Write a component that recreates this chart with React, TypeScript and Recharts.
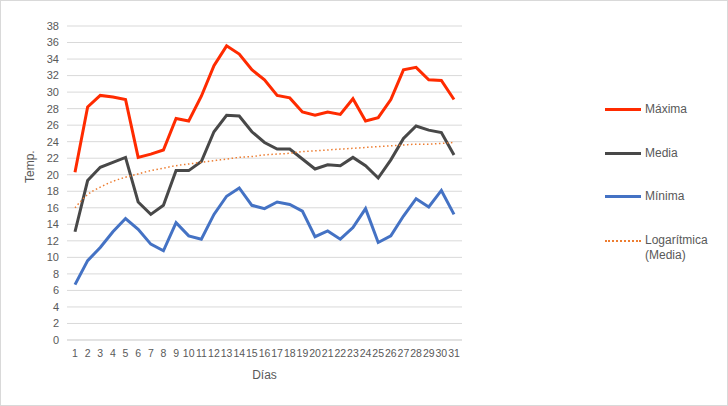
import { LineChart, Line, XAxis, YAxis, CartesianGrid, Legend } from 'recharts';

// Días del mes
const dias = [
  '1', '2', '3', '4', '5', '6', '7', '8', '9', '10', '11', '12', '13', '14', '15', '16',
  '17', '18', '19', '20', '21', '22', '23', '24', '25', '26', '27', '28', '29', '30', '31',
];

const maxima = [
  20.3, 28.2, 29.6, 29.4, 29.1, 22.1, 22.5, 23.0, 26.8, 26.5, 29.5, 33.2, 35.6, 34.6, 32.7, 31.5,
  29.6, 29.3, 27.6, 27.2, 27.6, 27.3, 29.2, 26.5, 26.9, 29.1, 32.7, 33.0, 31.5, 31.4, 29.1,
];

const media = [
  13.1, 19.3, 20.9, 21.5, 22.1, 16.7, 15.2, 16.3, 20.5, 20.5, 21.6, 25.2, 27.2, 27.1, 25.2, 23.9,
  23.1, 23.1, 21.9, 20.7, 21.2, 21.1, 22.1, 21.1, 19.6, 21.8, 24.4, 25.9, 25.4, 25.1, 22.4,
];

const minima = [
  6.7, 9.6, 11.2, 13.1, 14.7, 13.4, 11.6, 10.8, 14.2, 12.6, 12.2, 15.2, 17.4, 18.4, 16.3, 15.9,
  16.7, 16.4, 15.6, 12.5, 13.2, 12.2, 13.6, 15.9, 11.8, 12.6, 15.0, 17.1, 16.1, 18.1, 15.2,
];

// línea de tendencia logarítmica
const tendencia = [
  16.0, 17.6, 18.5, 19.2, 19.7, 20.1, 20.5, 20.8, 21.1, 21.3, 21.5, 21.7, 21.9, 22.1, 22.2, 22.4,
  22.5, 22.6, 22.8, 22.9, 23.0, 23.1, 23.2, 23.3, 23.4, 23.5, 23.6, 23.7, 23.7, 23.8, 23.9,
];

const ticksY = [0, 2, 4, 6, 8, 10, 12, 14, 16, 18, 20, 22, 24, 26, 28, 30, 32, 34, 36, 38];

const ordenLeyenda = ['maxima', 'media', 'minima', 'tendencia'];

const data = dias.map((dia, i) => ({
  dia,
  maxima: maxima[i],
  media: media[i],
  minima: minima[i],
  tendencia: tendencia[i],
}));

const FUENTE = '"Liberation Sans", Arial, sans-serif';
const GRIS_TEXTO = '#595959';

function LeyendaPersonalizada({ payload }: any) {
  if (!payload) return null;
  const items = ordenLeyenda
    .map((k) => payload.find((p: any) => p.dataKey === k))
    .filter(Boolean);
  return (
    <div style={{ fontFamily: FUENTE, fontSize: 12, color: GRIS_TEXTO }}>
      {items.map((entry: any) => {
        const punteada = entry.dataKey === 'tendencia';
        return (
          <div
            key={entry.dataKey}
            style={{ display: 'flex', alignItems: 'flex-start', height: 43.5 }}
          >
            <div
              style={{
                width: 36,
                marginTop: punteada ? 7 : 6,
                borderTop: punteada ? `2px dotted ${entry.color}` : `3px solid ${entry.color}`,
                marginRight: 4,
              }}
            />
            <div style={{ lineHeight: '15px' }}>
              {punteada ? (
                <>
                  Logarítmica
                  <br />
                  (Media)
                </>
              ) : (
                entry.value
              )}
            </div>
          </div>
        );
      })}
    </div>
  );
}

export default function App() {
  return (
    <div
      style={{
        position: 'absolute',
        left: 0,
        top: 0,
        width: 728,
        height: 406,
        boxSizing: 'border-box',
        border: '1px solid #d9d9d9',
        background: '#fff',
      }}
    >
      <LineChart
        width={726}
        height={404}
        data={data}
        margin={{ top: 25, right: 145, left: 19, bottom: 20 }}
      >
        <CartesianGrid vertical={false} stroke="#d9d9d9" />
        <XAxis
          dataKey="dia"
          height={45}
          padding={{ left: 8, right: 8 }}
          axisLine={{ stroke: '#d9d9d9' }}
          tickLine={false}
          interval={0}
          tick={{ fill: GRIS_TEXTO, fontSize: 10.5, fontFamily: FUENTE, dy: 2 }}
          label={{
            value: 'Días',
            position: 'insideBottom',
            offset: 6,
            fill: GRIS_TEXTO,
            fontSize: 12,
            fontFamily: FUENTE,
          }}
        />
        <YAxis
          domain={[0, 38]}
          ticks={ticksY}
          interval={0}
          width={47}
          axisLine={false}
          tickLine={false}
          tick={{ fill: GRIS_TEXTO, fontSize: 11, fontFamily: FUENTE }}
          label={{
            value: 'Temp.',
            angle: -90,
            position: 'insideLeft',
            offset: 10,
            fill: GRIS_TEXTO,
            fontSize: 12,
            fontFamily: FUENTE,
          }}
        />
        <Legend
          layout="vertical"
          align="right"
          verticalAlign="top"
          content={<LeyendaPersonalizada />}
          wrapperStyle={{ left: 604, top: 101, width: 120 }}
        />
        <Line
          type="linear"
          dataKey="maxima"
          name="Máxima"
          stroke="#ff2b00"
          strokeWidth={3}
          dot={false}
          isAnimationActive={false}
        />
        <Line
          type="linear"
          dataKey="media"
          name="Media"
          stroke="#484848"
          strokeWidth={3}
          dot={false}
          isAnimationActive={false}
        />
        <Line
          type="linear"
          dataKey="minima"
          name="Mínima"
          stroke="#4472c4"
          strokeWidth={3}
          dot={false}
          isAnimationActive={false}
        />
        <Line
          type="monotone"
          dataKey="tendencia"
          name="Logarítmica (Media)"
          stroke="#ed7d31"
          strokeWidth={1.5}
          strokeDasharray="1.5 2.5"
          dot={false}
          isAnimationActive={false}
        />
      </LineChart>
    </div>
  );
}
